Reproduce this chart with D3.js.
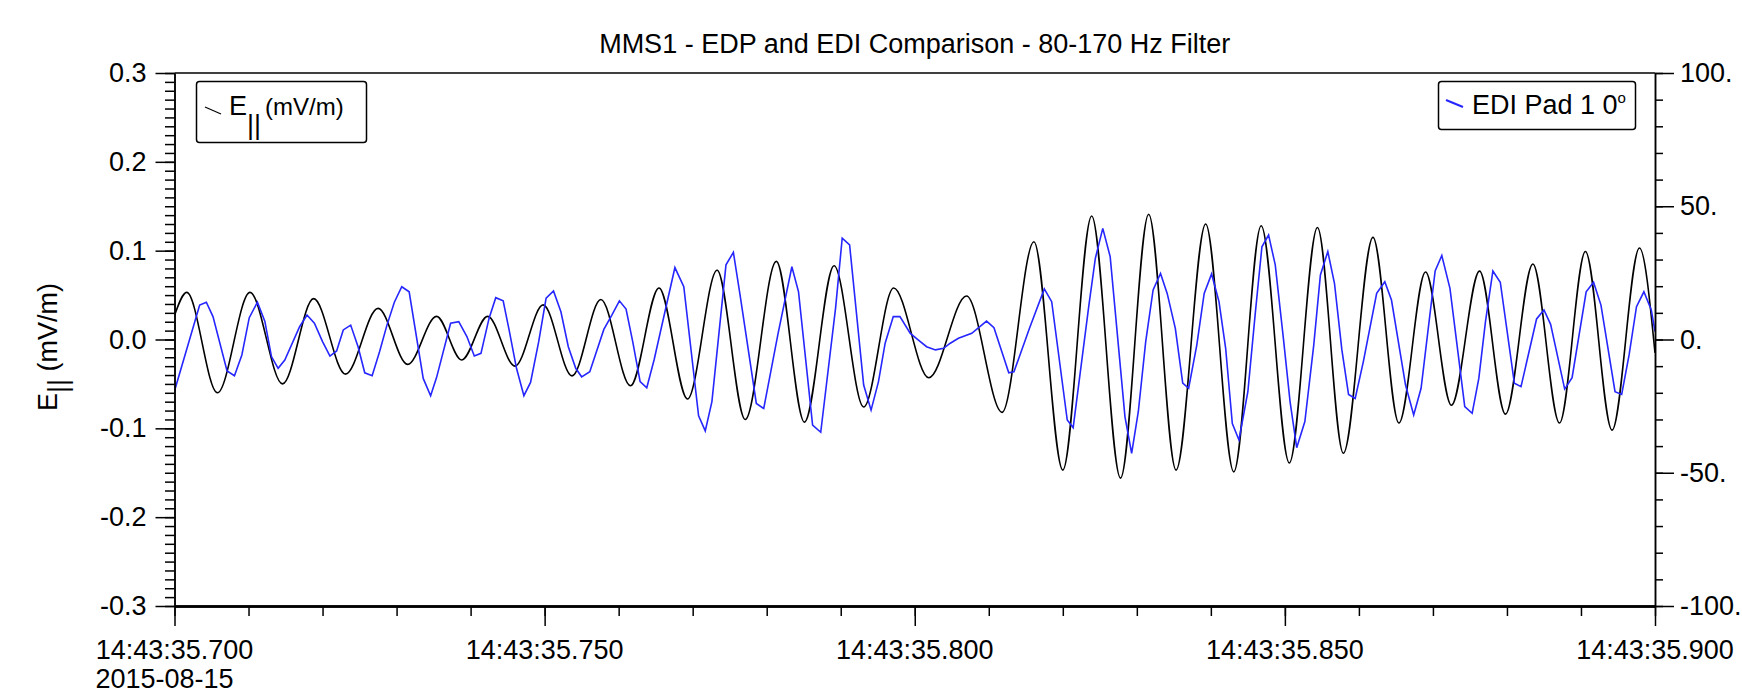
<!DOCTYPE html>
<html>
<head>
<meta charset="utf-8">
<script src="https://cdnjs.cloudflare.com/ajax/libs/d3/7.8.5/d3.min.js"></script>
<style>
  body { margin: 0; background: #fff; }
  text { font-family: "Liberation Sans", Arial, sans-serif; fill: #000; }
</style>
</head>
<body>
<div id="chart"></div>
<script>
// times are ms after 14:43:35.700
// EDP E parallel (mV/m), read at the peaks and troughs
var edpT = [0, 1.65, 5.8, 10.2, 14.6, 18.8, 23.1, 27.5, 31.5,
  35.4, 38.8, 42.3, 46.0, 49.8, 53.7, 57.6, 61.6, 65.45,
  69.3, 73.3, 77.1, 81.3, 85.1, 89.1, 93.1, 97.15,
  101.9, 107.0, 111.8, 116.1, 120.0, 123.9, 127.8,
  131.6, 135.3, 139.3, 143.1, 146.8, 150.6, 154.4, 157.9, 161.9,
  165.4, 169.0, 172.5, 176.3, 179.8, 183.5, 187.1, 190.6, 194.2, 197.9, 200];
var edpV = [0.027, 0.053, -0.060, 0.053, -0.050, 0.046, -0.039, 0.035, -0.028,
  0.026, -0.023, 0.026, -0.030, 0.039, -0.041, 0.045, -0.052, 0.058,
  -0.067, 0.078, -0.090, 0.088, -0.093, 0.083, -0.076, 0.058,
  -0.043, 0.049, -0.082, 0.110, -0.147, 0.139, -0.156,
  0.141, -0.147, 0.130, -0.149, 0.128, -0.139, 0.126, -0.128, 0.115,
  -0.094, 0.076, -0.074, 0.077, -0.084, 0.085, -0.094, 0.099, -0.102, 0.103, -0.015];

// EDI pad 1 0 deg (right axis units)
var ediT = [0, 3.4, 4.3, 5.2, 7.1, 8.1, 9.1, 10.1, 11.2, 12.2, 13.1, 14.0, 14.9,
  16.9, 17.9, 18.9, 20.0, 21.0, 21.9, 22.8, 23.8, 24.8, 25.7, 26.7, 27.7, 28.7,
  29.7, 30.7, 31.7, 33.6, 34.6, 35.4, 37.3, 38.4, 39.5, 40.5, 41.4, 42.5, 43.4,
  44.4, 45.2, 46.2, 47.2, 48.1, 49.2, 50.2, 51.2, 52.2, 53.2, 54.2, 55.0, 56.1,
  58.0, 59.1, 60.1, 61.0, 61.9, 62.9, 63.8, 64.8, 67.6, 68.8, 70.8, 71.7, 72.6,
  74.5, 75.5, 76.4, 78.6, 79.6, 81.5, 83.4, 84.3, 86.2, 87.3, 89.3, 90.2, 91.2,
  93.1, 94.1, 95.1, 96.0, 97.1, 98.0, 99.4, 100.5, 101.6, 102.8, 103.9, 104.8,
  105.9, 107.7, 109.7, 110.7, 112.7, 113.4, 115.5, 117.5, 118.5, 120.6, 121.4,
  123.5, 124.4, 125.4, 126.4, 128.4, 129.3, 130.2, 131.2, 132.2, 133.2, 134.1,
  135.2, 136.2, 137.0, 138.1, 139.1, 140.1, 141.1, 142.0, 142.9, 143.8, 145.0,
  146.0, 146.9, 147.8, 148.7, 149.8, 150.7, 151.6, 152.7, 153.9, 154.8, 155.8,
  156.7, 157.7, 158.6, 159.5, 160.6, 162.4, 163.5, 164.4, 166.3, 167.4, 168.4,
  170.3, 171.2, 172.3, 174.3, 175.3, 176.2, 177.1, 178.1, 179.1, 181.0, 181.9,
  184.0, 185.0, 185.9, 187.8, 188.8, 190.7, 191.7, 192.7, 194.6, 195.5, 196.5,
  197.5, 198.5, 199.5, 200];
var ediV = [-19.3, 12.9, 14.0, 8.6, -11.8, -13.6, -5.8, 8.2, 14.0, 6.9, -6.4, -10.8, -7.7,
  4.8, 9.2, 6.1, -0.8, -6.2, -4.3, 3.6, 5.4, -2.7, -12.5, -13.6, -4.6, 5.4,
  14.0, 19.8, 17.9, -14.6, -21.1, -14.3, 6.1, 6.7, 1.1, -6.2, -5.2, 8.0, 15.7,
  14.5, 3.6, -10.8, -21.1, -16.1, -0.8, 15.5, 18.2, 10.4, -2.7, -10.8, -14.0, -12.1,
  3.8, 9.2, 14.5, 11.4, -0.8, -15.8, -18.1, -7.5, 27.0, 19.8, -28.6, -34.3, -23.3,
  28.0, 32.7, 16.7, -24.0, -25.9, 1.7, 27.3, 17.9, -32.1, -34.8, 11.7, 38.0, 35.5,
  -17.1, -26.5, -15.8, -1.4, 8.6, 8.6, 2.3, -0.2, -2.7, -3.9, -3.3, -1.4,
  0.45, 2.3, 6.9, 4.4, -12.5, -12.1, 4.2, 19.0, 14.2, -30.2, -33.1,
  12.3, 30.5, 41.7, 31.1, -29.0, -42.7, -27.1, -0.8, 18.6, 24.8, 17.3,
  4.2, -16.4, -18.3, -2.1, 17.3, 24.6, 14.2, -3.3, -31.5, -37.7, -19.6,
  9.8, 34.8, 39.2, 28.0, 0.45, -23.3, -40.6, -30.8, -2.1, 24.2, 33.0,
  21.1, -3.9, -20.6, -22.1, -8.3, 17.3, 21.7, 14.8, -17.1, -28.3, -18.3,
  25.7, 31.5, 19.2, -25.2, -27.7, -14.6, 6.7, 25.7, 21.5, -16.4, -17.7,
  7.7, 11.1, 5.7, -18.6, -14.3, 17.9, 21.5, 12.9, -19.6, -20.6, -5.8,
  12.3, 17.9, 11.1, 3];

// tick values and labels
var xTicks = [0, 50, 100, 150, 200];
var xLabels = ["14:43:35.700", "14:43:35.750", "14:43:35.800", "14:43:35.850", "14:43:35.900"];
var yTicksL = [-0.3, -0.2, -0.1, 0.0, 0.1, 0.2, 0.3];
var yLabelsL = ["-0.3", "-0.2", "-0.1", "0.0", "0.1", "0.2", "0.3"];
var yTicksR = [-100, -50, 0, 50, 100];
var yLabelsR = ["-100.", "-50.", "0.", "50.", "100."];

var svgWidth = 1742;
var svgHeight = 694;
var plot = {left: 174.5, right: 1655, top: 73, bottom: 606};

var svg = d3.select("#chart")
  .append("svg")
  .attr("width", svgWidth)
  .attr("height", svgHeight);

var xScale = d3.scaleLinear().domain([0, 200]).range([plot.left, plot.right]);
var yLeft = d3.scaleLinear().domain([-0.3, 0.3]).range([plot.bottom, plot.top]);
var yRight = d3.scaleLinear().domain([-100, 100]).range([plot.bottom, plot.top]);

svg.append("clipPath").attr("id", "clip")
  .append("rect")
  .attr("x", plot.left).attr("y", plot.top)
  .attr("width", plot.right - plot.left)
  .attr("height", plot.bottom - plot.top);

// data lines
var edpLine = d3.line()
  .x(d => xScale(d[0]))
  .y(d => yLeft(d[1]))
  .curve(d3.curveMonotoneX);

var ediLine = d3.line()
  .x(d => xScale(d[0]))
  .y(d => yRight(d[1]));

var lines = svg.append("g").attr("clip-path", "url(#clip)");

lines.append("path")
  .datum(edpT.map((t, i) => [t, edpV[i]]))
  .attr("d", edpLine)
  .attr("fill", "none")
  .attr("stroke", "#000")
  .attr("stroke-width", 1.6);

lines.append("path")
  .datum(ediT.map((t, i) => [t, ediV[i]]))
  .attr("d", ediLine)
  .attr("fill", "none")
  .attr("stroke", "#2626ff")
  .attr("stroke-width", 1.6);

// axes
function styleAxis(g) {
  g.selectAll("path, line").attr("stroke", "#000").attr("stroke-width", 1.5);
  g.selectAll("text").style("font-size", "27px").attr("fill", "#000");
}

// left axis, minor then major
svg.append("g")
  .attr("transform", `translate(${plot.left},0)`)
  .call(d3.axisLeft(yLeft).ticks(60).tickSize(9.5).tickSizeOuter(0).tickFormat(""))
  .call(styleAxis);

svg.append("g")
  .attr("transform", `translate(${plot.left},0)`)
  .call(d3.axisLeft(yLeft).tickValues(yTicksL).tickSize(19).tickSizeOuter(0)
    .tickPadding(9).tickFormat((d, i) => yLabelsL[i]))
  .call(styleAxis);

// right axis
svg.append("g")
  .attr("transform", `translate(${plot.right},0)`)
  .call(d3.axisRight(yRight).ticks(20).tickSize(8).tickSizeOuter(0).tickFormat(""))
  .call(styleAxis);

svg.append("g")
  .attr("transform", `translate(${plot.right},0)`)
  .call(d3.axisRight(yRight).tickValues(yTicksR).tickSize(19).tickSizeOuter(0)
    .tickPadding(6).tickFormat((d, i) => yLabelsR[i]))
  .call(styleAxis);

// bottom axis
svg.append("g")
  .attr("transform", `translate(0,${plot.bottom})`)
  .call(d3.axisBottom(xScale).ticks(20).tickSize(10).tickSizeOuter(0).tickFormat(""))
  .call(styleAxis)
  .select(".domain").attr("stroke-width", 2.5);

svg.append("g")
  .attr("transform", `translate(0,${plot.bottom})`)
  .call(d3.axisBottom(xScale).tickValues(xTicks).tickSize(20).tickSizeOuter(0).tickFormat(""))
  .call(styleAxis)
  .select(".domain").attr("stroke-width", 2.5);

// top frame line
svg.append("line")
  .attr("x1", plot.left).attr("x2", plot.right)
  .attr("y1", plot.top).attr("y2", plot.top)
  .attr("stroke", "#000").attr("stroke-width", 1.5);

// x tick labels
svg.append("g").selectAll("text")
  .data(xTicks)
  .enter()
  .append("text")
  .attr("x", d => xScale(d))
  .attr("y", 659)
  .attr("text-anchor", "middle")
  .style("font-size", "27px")
  .text((d, i) => xLabels[i]);

svg.append("text")
  .attr("x", xScale(0) - 79)
  .attr("y", 688)
  .style("font-size", "27px")
  .text("2015-08-15");

// title
svg.append("text")
  .attr("x", (plot.left + plot.right) / 2)
  .attr("y", 53)
  .attr("text-anchor", "middle")
  .style("font-size", "27px")
  .text("MMS1 - EDP and EDI Comparison - 80-170 Hz Filter");

// y axis title
var yTitle = svg.append("text")
  .attr("transform", "translate(57,347) rotate(-90)")
  .attr("text-anchor", "middle")
  .style("font-size", "27px");
yTitle.append("tspan").text("E");
yTitle.append("tspan").attr("dy", 10).style("font-size", "27px").text("||");
yTitle.append("tspan").attr("dy", -10).text(" (mV/m)");

// legends
svg.append("rect")
  .attr("x", 196.5).attr("y", 81.5).attr("width", 170).attr("height", 61)
  .attr("rx", 3).attr("fill", "#fff").attr("stroke", "#000").attr("stroke-width", 1.5);
svg.append("line")
  .attr("x1", 205).attr("y1", 107).attr("x2", 221).attr("y2", 114)
  .attr("stroke", "#000").attr("stroke-width", 1.2);
var legL = svg.append("text").attr("x", 229).attr("y", 115).style("font-size", "27px");
legL.append("tspan").text("E");
legL.append("tspan").attr("dy", 19).text("||");
legL.append("tspan").attr("dy", -19).attr("dx", 4).style("font-size", "24px").text("(mV/m)");

svg.append("rect")
  .attr("x", 1438.5).attr("y", 81.5).attr("width", 197).attr("height", 48)
  .attr("rx", 3).attr("fill", "#fff").attr("stroke", "#000").attr("stroke-width", 1.5);
svg.append("line")
  .attr("x1", 1446).attr("y1", 100).attr("x2", 1463).attr("y2", 107)
  .attr("stroke", "#2626ff").attr("stroke-width", 2);
var legR = svg.append("text").attr("x", 1472).attr("y", 114).style("font-size", "27px");
legR.append("tspan").text("EDI Pad 1 0");
legR.append("tspan").attr("dy", -11).style("font-size", "15px").text("o");
</script>
</body>
</html>
